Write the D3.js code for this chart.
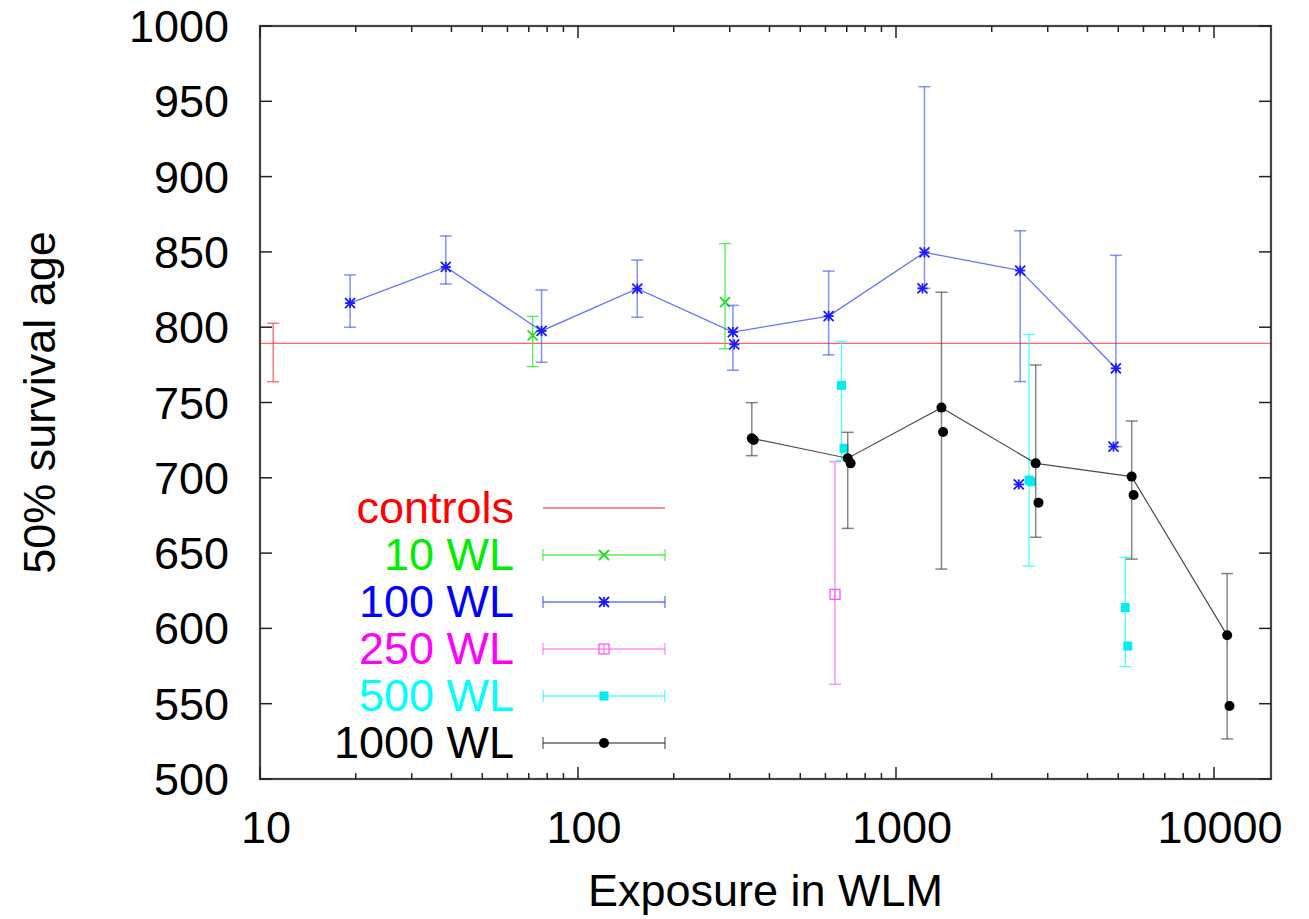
<!DOCTYPE html>
<html>
<head>
<meta charset="utf-8">
<script src="https://cdn.jsdelivr.net/npm/d3@7"></script>
<style>
  body { margin: 0; background: #fff; }
  text { font-family: "Liberation Sans", Arial, sans-serif; }
</style>
</head>
<body>
<svg id="chart" width="1309" height="919"></svg>
<script>
// controls
var ctrlY = 789.3;
var ctrlBarX = [11.0], ctrlBarY = [789.3], ctrlBarLo = [763.8], ctrlBarHi = [802.6];

// 10 WL
var wl10X = [72, 290];
var wl10Y = [794.6, 816.7];
var wl10Lo = [773.8, 785.7];
var wl10Hi = [807.2, 855.5];

// 100 WL (means, joined)
var wl100X = [19.2, 38.4, 76.8, 153.6, 307, 614, 1229, 2458, 4915];
var wl100Y = [816, 840, 797.5, 825.6, 796.8, 807.4, 849.7, 837.6, 772.7];
var wl100Lo = [800, 828.7, 776.7, 806.6, 771.4, 781.6, 825.8, 763.9, 720.7];
var wl100Hi = [834.7, 860.6, 824.7, 844.6, 814.5, 837.3, 959.7, 864, 847.7];
var wl100ExX = [310, 1211, 2433, 4830];
var wl100ExY = [788.6, 825.8, 695.6, 720.7];

// 250 WL
var wl250X = [643];
var wl250Y = [622.6];
var wl250Lo = [562.9];
var wl250Hi = [710.7];

// 500 WL
var wl500X = [674, 2620, 5260];
var wl500Y = [761.4, 698.5, 613.8];
var wl500Lo = [711.5, 641.4, 574.6];
var wl500Hi = [790.4, 795.2, 647.2];
var wl500ExX = [686, 2660, 5355];
var wl500ExY = [719.6, 697.4, 588.3];

// 1000 WL (means, joined)
var wl1000X = [352, 705, 1390, 2750, 5510, 11000];
var wl1000Y = [726.2, 713, 746.6, 709.6, 700.8, 595.4];
var wl1000Lo = [714.7, 666.4, 639.4, 660.5, 646, 526.6];
var wl1000Hi = [749.9, 730.2, 823.2, 774.9, 737.7, 636.4];
var wl1000ExX = [357, 720, 1406, 2806, 5585, 11190];
var wl1000ExY = [725.1, 709.6, 730.4, 683.5, 688.6, 548.5];

var xMajor = [10, 100, 1000, 10000];
var yTicks = [500, 550, 600, 650, 700, 750, 800, 850, 900, 950, 1000];

var legendNames = ["controls", "10 WL", "100 WL", "250 WL", "500 WL", "1000 WL"];

var svg = d3.select("#chart");
var L = 260, R = 1271, T = 26, B = 779;

var x = d3.scaleLog().domain([10, 15110]).range([L, R]);
var y = d3.scaleLinear().domain([500, 1000]).range([B, T]);

function zip(xs, ys, lo, hi) {
    return xs.map(function(v, i) {
        return {x: v, y: ys[i], lo: lo ? lo[i] : null, hi: hi ? hi[i] : null};
    });
}

// marker painters
function marker(g, kind, cx, cy, col) {
    var s = 5;
    if (kind == "cross" || kind == "star") {
        g.append("line").attr("x1", cx - s).attr("y1", cy - s).attr("x2", cx + s).attr("y2", cy + s)
            .attr("stroke", col).attr("stroke-width", 1.8);
        g.append("line").attr("x1", cx - s).attr("y1", cy + s).attr("x2", cx + s).attr("y2", cy - s)
            .attr("stroke", col).attr("stroke-width", 1.8);
    }
    if (kind == "star") {
        g.append("line").attr("x1", cx - s).attr("y1", cy).attr("x2", cx + s).attr("y2", cy)
            .attr("stroke", col).attr("stroke-width", 1.8);
        g.append("line").attr("x1", cx).attr("y1", cy - s).attr("x2", cx).attr("y2", cy + s)
            .attr("stroke", col).attr("stroke-width", 1.8);
    }
    if (kind == "box") {
        g.append("rect").attr("x", cx - 5).attr("y", cy - 5).attr("width", 10).attr("height", 10)
            .attr("fill", "none").attr("stroke", col).attr("stroke-width", 1.3);
        g.append("line").attr("x1", cx).attr("y1", cy - 5).attr("x2", cx).attr("y2", cy + 5)
            .attr("stroke", col).attr("stroke-width", 1);
    }
    if (kind == "fbox") {
        g.append("rect").attr("x", cx - 4.5).attr("y", cy - 4.5).attr("width", 9).attr("height", 9)
            .attr("fill", col);
    }
    if (kind == "dot") {
        g.append("circle").attr("cx", cx).attr("cy", cy).attr("r", 5).attr("fill", col);
    }
}

function errBars(g, pts, col, op, w) {
    pts.forEach(function(p) {
        var px = x(p.x);
        g.append("line").attr("x1", px).attr("x2", px).attr("y1", y(p.lo)).attr("y2", y(p.hi))
            .attr("stroke", col).attr("stroke-opacity", op).attr("stroke-width", w);
        [p.lo, p.hi].forEach(function(v) {
            g.append("line").attr("x1", px - 6).attr("x2", px + 6).attr("y1", y(v)).attr("y2", y(v))
                .attr("stroke", col).attr("stroke-opacity", op).attr("stroke-width", w);
        });
    });
}

var line = d3.line().x(function(d) { return x(d.x); }).y(function(d) { return y(d.y); });

var plot = svg.append("g");

// controls
plot.append("line").attr("x1", L).attr("x2", R).attr("y1", y(ctrlY)).attr("y2", y(ctrlY))
    .attr("stroke", "#ff3333").attr("stroke-opacity", 0.75).attr("stroke-width", 1.3);
errBars(plot, zip(ctrlBarX, ctrlBarY, ctrlBarLo, ctrlBarHi), "#ff3333", 0.75, 1.3);

// 10 WL
var p10 = zip(wl10X, wl10Y, wl10Lo, wl10Hi);
errBars(plot, p10, "#22ee22", 0.8, 1.3);
p10.forEach(function(p) { marker(plot, "cross", x(p.x), y(p.y), "#22dd22"); });

// 100 WL
var p100 = zip(wl100X, wl100Y, wl100Lo, wl100Hi);
errBars(plot, p100, "#3344ff", 0.6, 1.5);
plot.append("path").datum(p100).attr("d", line).attr("fill", "none")
    .attr("stroke", "#3344ff").attr("stroke-opacity", 0.75).attr("stroke-width", 1.3);
p100.forEach(function(p) { marker(plot, "star", x(p.x), y(p.y), "#1a1aff"); });
zip(wl100ExX, wl100ExY).forEach(function(p) { marker(plot, "star", x(p.x), y(p.y), "#1a1aff"); });

// 250 WL
var p250 = zip(wl250X, wl250Y, wl250Lo, wl250Hi);
errBars(plot, p250, "#ff66ff", 0.7, 1.5);
p250.forEach(function(p) { marker(plot, "box", x(p.x), y(p.y), "#ff55ff"); });

// 500 WL
var p500 = zip(wl500X, wl500Y, wl500Lo, wl500Hi);
errBars(plot, p500, "#22ffff", 0.8, 1.3);
p500.forEach(function(p) { marker(plot, "fbox", x(p.x), y(p.y), "#00eeee"); });
zip(wl500ExX, wl500ExY).forEach(function(p) { marker(plot, "fbox", x(p.x), y(p.y), "#00eeee"); });

// 1000 WL
var p1000 = zip(wl1000X, wl1000Y, wl1000Lo, wl1000Hi);
errBars(plot, p1000, "#333", 0.6, 1.5);
plot.append("path").datum(p1000).attr("d", line).attr("fill", "none")
    .attr("stroke", "#222").attr("stroke-opacity", 0.8).attr("stroke-width", 1.2);
p1000.forEach(function(p) { marker(plot, "dot", x(p.x), y(p.y), "#000"); });
zip(wl1000ExX, wl1000ExY).forEach(function(p) { marker(plot, "dot", x(p.x), y(p.y), "#000"); });

// legend
var legCols = ["#ff0000", "#00ee00", "#0000ff", "#ff00ff", "#00ffff", "#000000"];
var legLine = ["#ff3333", "#22ee22", "#3344ff", "#ff66ff", "#22ffff", "#333"];
var legMark = [null, "cross", "star", "box", "fbox", "dot"];
var legMarkCol = [null, "#22dd22", "#1a1aff", "#ff55ff", "#00eeee", "#000"];
var leg = svg.append("g");
legendNames.forEach(function(name, i) {
    var ly = 508 + i * 47;
    leg.append("text").attr("x", 514).attr("y", ly + 15).attr("text-anchor", "end")
        .attr("font-size", 45).attr("fill", legCols[i]).text(name);
    leg.append("line").attr("x1", 543).attr("x2", 665).attr("y1", ly).attr("y2", ly)
        .attr("stroke", legLine[i]).attr("stroke-opacity", 0.75).attr("stroke-width", 1.3);
    if (i > 0) {
        [543, 665].forEach(function(cx) {
            leg.append("line").attr("x1", cx).attr("x2", cx).attr("y1", ly - 6).attr("y2", ly + 6)
                .attr("stroke", legLine[i]).attr("stroke-opacity", 0.75).attr("stroke-width", 1.3);
        });
        marker(leg, legMark[i], 604, ly, legMarkCol[i]);
    }
});

// frame and ticks
var ax = svg.append("g");
ax.append("rect").attr("x", L).attr("y", T).attr("width", R - L).attr("height", B - T)
    .attr("fill", "none").attr("stroke", "#444").attr("stroke-width", 2.2);

var xt = x.ticks();
xt.forEach(function(v) {
    var major = xMajor.indexOf(v) >= 0;
    var len = major ? 12 : 6;
    var px = x(v);
    ax.append("line").attr("x1", px).attr("x2", px).attr("y1", B).attr("y2", B - len)
        .attr("stroke", "#222").attr("stroke-width", 1.5);
    ax.append("line").attr("x1", px).attr("x2", px).attr("y1", T).attr("y2", T + len)
        .attr("stroke", "#222").attr("stroke-width", 1.5);
});
xMajor.forEach(function(v) {
    ax.append("text").attr("x", x(v) + 6).attr("y", 843).attr("text-anchor", "middle")
        .attr("font-size", 45).attr("fill", "#000").text(v);
});

yTicks.forEach(function(v) {
    var py = y(v);
    ax.append("line").attr("x1", L).attr("x2", L + 12).attr("y1", py).attr("y2", py)
        .attr("stroke", "#222").attr("stroke-width", 1.5);
    ax.append("line").attr("x1", R).attr("x2", R - 12).attr("y1", py).attr("y2", py)
        .attr("stroke", "#222").attr("stroke-width", 1.5);
    ax.append("text").attr("x", 229).attr("y", py + 16).attr("text-anchor", "end")
        .attr("font-size", 45).attr("fill", "#000").text(v);
});

// axis titles
ax.append("text").attr("x", (L + R) / 2).attr("y", 906).attr("text-anchor", "middle")
    .attr("font-size", 45).attr("fill", "#000").text("Exposure in WLM");
ax.append("text").attr("transform", "translate(55," + ((T + B) / 2) + ") rotate(-90)")
    .attr("text-anchor", "middle").attr("font-size", 45).attr("fill", "#000").text("50% survival age");
</script>
</body>
</html>
